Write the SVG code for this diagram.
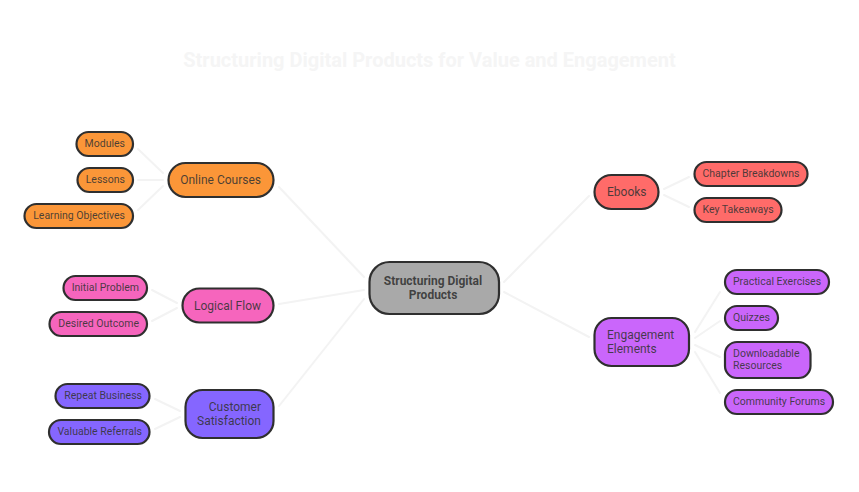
<svg xmlns="http://www.w3.org/2000/svg" width="859" height="492" viewBox="0 0 859 492">
<style>
text{font-family:Roboto,"Liberation Sans",sans-serif;fill:#333;fill-opacity:.88}
.t{font-size:20px;font-weight:700;fill:#f5f5f5;fill-opacity:1;text-anchor:middle}
.n rect{stroke:#2f2f2f;stroke-width:2.2}
.l text{font-size:10.500px}
.m text{font-size:12px}
.r text{font-size:12px;font-weight:700;text-anchor:middle}
.e{text-anchor:end}
.or rect{fill:#fb9638}.pk rect{fill:#f665bd}.pu rect{fill:#8566ff}.rd rect{fill:#ff6b69}.vi rect{fill:#ca66fb}.gy rect{fill:#a9a9a9}
#connectors line{stroke:#f3f3f3;stroke-width:2;stroke-linecap:round}
</style>
<rect width="859" height="492" fill="#fff"/>
<text class="t" x="429.500" y="67">Structuring Digital Products for Value and Engagement</text>
<g id="connectors">
<line x1="279" y1="187" x2="364" y2="277"/>
<line x1="279" y1="304" x2="364" y2="290"/>
<line x1="279" y1="406" x2="364" y2="299"/>
<line x1="504" y1="282" x2="589" y2="196"/>
<line x1="504" y1="292" x2="589" y2="337"/>
<line x1="138" y1="149" x2="163" y2="173"/>
<line x1="138" y1="180" x2="163" y2="180"/>
<line x1="138" y1="210" x2="163" y2="186"/>
<line x1="152" y1="290" x2="177" y2="303"/>
<line x1="152" y1="321" x2="177" y2="308"/>
<line x1="155" y1="399" x2="180" y2="411"/>
<line x1="155" y1="429" x2="180" y2="417"/>
<line x1="664" y1="189" x2="689" y2="177"/>
<line x1="664" y1="195" x2="689" y2="207"/>
<line x1="695" y1="332" x2="720" y2="292"/>
<line x1="695" y1="338" x2="720" y2="321"/>
<line x1="695" y1="345" x2="720" y2="357"/>
<line x1="695" y1="352" x2="720" y2="393"/>
</g>
<g id="root" class="n r gy"><rect x="369.500" y="262" width="129.500" height="52" rx="20"/><text x="433" y="285">Structuring Digital</text><text x="433" y="299">Products</text></g>
<g id="online-courses" class="n m or"><rect x="168.500" y="163" width="105" height="34" rx="17"/><text class="e" x="261" y="184">Online Courses</text></g>
<g id="modules" class="n l or"><rect x="76.500" y="132" width="56.500" height="24" rx="12"/><text class="e" x="125" y="147">Modules</text></g>
<g id="lessons" class="n l or"><rect x="77.500" y="168" width="55.500" height="24" rx="12"/><text class="e" x="125" y="183">Lessons</text></g>
<g id="learning-objectives" class="n l or"><rect x="24.500" y="204" width="108.500" height="24" rx="12"/><text class="e" x="125" y="219">Learning Objectives</text></g>
<g id="logical-flow" class="n m pk"><rect x="182.500" y="288.500" width="91" height="34" rx="17"/><text class="e" x="261" y="310">Logical Flow</text></g>
<g id="initial-problem" class="n l pk"><rect x="63.500" y="276" width="83.500" height="24" rx="12"/><text class="e" x="139" y="291">Initial Problem</text></g>
<g id="desired-outcome" class="n l pk"><rect x="49.500" y="312" width="97.500" height="24" rx="12"/><text class="e" x="139" y="327">Desired Outcome</text></g>
<g id="customer-satisfaction" class="n m pu"><rect x="185.500" y="390" width="88" height="48" rx="17"/><text class="e" x="261" y="411">Customer</text><text class="e" x="261" y="425">Satisfaction</text></g>
<g id="repeat-business" class="n l pu"><rect x="55.500" y="384" width="94" height="24" rx="12"/><text class="e" x="142" y="399">Repeat Business</text></g>
<g id="valuable-referrals" class="n l pu"><rect x="49" y="420" width="100.500" height="24" rx="12"/><text class="e" x="142" y="435">Valuable Referrals</text></g>
<g id="ebooks" class="n m rd"><rect x="594.500" y="175" width="64" height="34" rx="17"/><text x="607" y="196">Ebooks</text></g>
<g id="chapter-breakdowns" class="n l rd"><rect x="694.500" y="162" width="113" height="24" rx="12"/><text x="702.500" y="177">Chapter Breakdowns</text></g>
<g id="key-takeaways" class="n l rd"><rect x="694.500" y="198" width="87" height="24" rx="12"/><text x="702.500" y="213">Key Takeaways</text></g>
<g id="engagement-elements" class="n m vi"><rect x="594.500" y="318" width="94.500" height="48" rx="17"/><text x="607" y="339">Engagement</text><text x="607" y="353">Elements</text></g>
<g id="practical-exercises" class="n l vi"><rect x="725" y="270" width="104" height="24" rx="12"/><text x="733" y="285">Practical Exercises</text></g>
<g id="quizzes" class="n l vi"><rect x="725" y="306" width="53" height="24" rx="12"/><text x="733" y="321">Quizzes</text></g>
<g id="downloadable-resources" class="n l vi"><rect x="725" y="342" width="85.500" height="36" rx="12"/><text x="733" y="357">Downloadable</text><text x="733" y="369">Resources</text></g>
<g id="community-forums" class="n l vi"><rect x="725" y="390" width="108" height="24" rx="12"/><text x="733" y="405">Community Forums</text></g>
</svg>
